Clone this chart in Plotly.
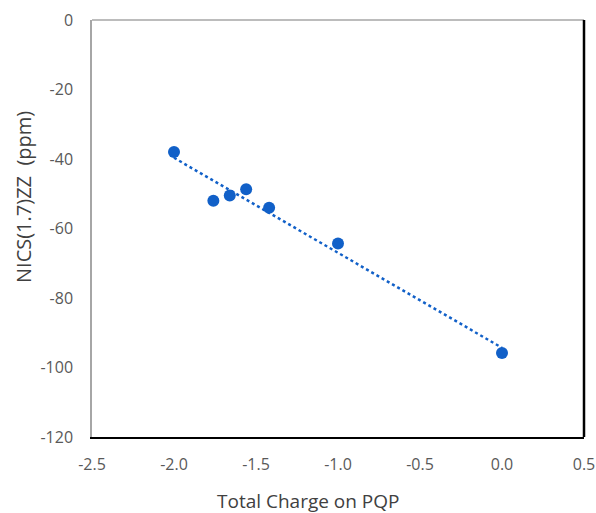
import numpy as np
import plotly.graph_objects as go

charge = [-2.0, -1.76, -1.66, -1.56, -1.42, -1.0, 0.0]
nics = [-38.0, -52.0, -50.5, -48.7, -54.0, -64.3, -95.8]

x_ticks = [-2.5, -2.0, -1.5, -1.0, -0.5, 0.0, 0.5]
y_ticks = [-120, -100, -80, -60, -40, -20, 0]
x_labels = [f"{v:.1f}" for v in x_ticks]
y_labels = [str(v) for v in y_ticks]

slope, intercept = np.polyfit(charge, nics, 1)
tx = [min(charge), max(charge)]
ty = [slope * v + intercept for v in tx]

blue = "#1160C8"
fig = go.Figure()
fig.add_trace(go.Scatter(x=tx, y=ty, mode="lines",
                         line=dict(color=blue, width=2.5, dash="dot"),
                         showlegend=False, hoverinfo="skip"))
fig.add_trace(go.Scatter(x=charge, y=nics, mode="markers",
                         marker=dict(color=blue, size=12),
                         showlegend=False))

font = "Open Sans, Liberation Sans, sans-serif"
fig.update_layout(
    width=596, height=513,
    margin=dict(l=92, r=12, t=20, b=76),
    paper_bgcolor="white", plot_bgcolor="white",
    font=dict(family=font, color="#595959", size=16),
    xaxis=dict(range=[-2.5, 0.5], tickvals=x_ticks, ticktext=x_labels,
               showgrid=False, zeroline=False, automargin=False,
               showline=True, linecolor="black", linewidth=2,
               ticks="", ticklabelstandoff=12),
    yaxis=dict(range=[-120, 0], tickvals=y_ticks, ticktext=y_labels,
               showgrid=False, zeroline=False, automargin=False,
               showline=True, linecolor="#A6A6A6", linewidth=1.5,
               ticks="", ticklabelstandoff=14),
    shapes=[
        dict(type="line", xref="paper", yref="paper", x0=0, x1=1, y0=1, y1=1,
             line=dict(color="#A6A6A6", width=1.5)),
        dict(type="line", xref="paper", yref="paper", x0=1, x1=1, y0=0, y1=1,
             line=dict(color="black", width=2.5)),
    ],
    annotations=[
        dict(text="Total Charge on PQP", xref="paper", yref="paper",
             x=(308 - 92) / 492, y=-(501 - 437) / 417, showarrow=False,
             xanchor="center", yanchor="middle",
             font=dict(size=19, color="#404040", family=font)),
        dict(text="NICS(1.7)ZZ\u00a0\u00a0(ppm)", xref="paper", yref="paper",
             x=-(92 - 23) / 492, y=(437 - 197) / 417, showarrow=False,
             xanchor="center", yanchor="middle", textangle=-90,
             font=dict(size=20, color="#404040", family=font)),
    ],
)
fig.write_html(
    "out.html",
    config={"displayModeBar": False},
    post_script="document.body.style.margin='0';document.body.style.overflow='hidden';",
)
